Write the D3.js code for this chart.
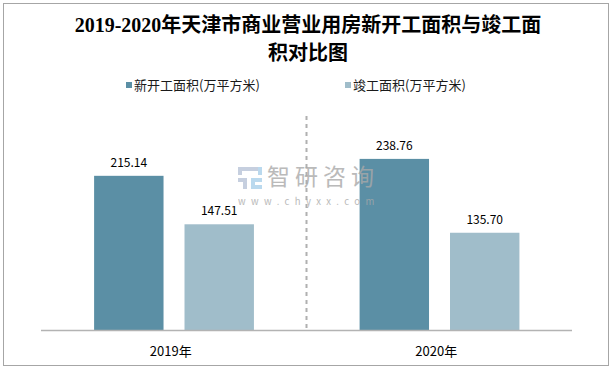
<!DOCTYPE html>
<html>
<head>
<meta charset="utf-8">
<script src="https://cdn.jsdelivr.net/npm/d3@7"></script>
<style>
  body { margin: 0; background: #fff; }
  svg text { font-family: "Microsoft YaHei", "Noto Sans CJK SC", sans-serif; }
</style>
</head>
<body>
<svg id="chart" width="616" height="370"></svg>
<script>
// data
var years = ["2019年", "2020年"];
var seriesNames = ["新开工面积(万平方米)", "竣工面积(万平方米)"];
var newStart = [215.14, 238.76];
var completed = [147.51, 135.70];
var colors = ["#5b8fa5", "#a0bdca"];

var svg = d3.select("#chart");

// frame
svg.append("rect")
    .attr("x", 3.5).attr("y", 3.5)
    .attr("width", 605).attr("height", 362)
    .attr("fill", "none")
    .attr("stroke", "#a6a6a6")
    .attr("stroke-width", 1);

// title
var title = svg.append("text")
    .attr("text-anchor", "middle")
    .style("font-family", "'Liberation Serif', 'Noto Sans CJK SC', serif")
    .style("font-weight", "bold")
    .style("font-size", "20px")
    .attr("fill", "#000");
title.append("tspan").attr("x", 308).attr("y", 32).text("2019-2020年天津市商业营业用房新开工面积与竣工面");
title.append("tspan").attr("x", 308).attr("y", 60).text("积对比图");

// scales
var x0 = d3.scaleBand().domain(years).range([41, 572]);
var x1 = d3.scaleBand().domain([0, 1])
    .range([x0.bandwidth() * 0.2, x0.bandwidth() * 0.802])
    .paddingInner(0.232);
var y = d3.scaleLinear().domain([0, 300]).range([330, 115]);

// legend
var legendX = [126, 345];
var legend = svg.selectAll(".legend")
    .data(seriesNames)
    .join("g")
    .attr("class", "legend")
    .attr("transform", (d, i) => `translate(${legendX[i]},82)`);
legend.append("rect")
    .attr("width", 6).attr("height", 6)
    .attr("fill", (d, i) => colors[i]);
legend.append("text")
    .attr("x", 8).attr("y", 7.5)
    .style("font-size", "13px")
    .attr("fill", "#1a1a1a")
    .text(d => d);

// separator
svg.append("line")
    .attr("x1", x0.range()[0] + x0.bandwidth()).attr("x2", x0.range()[0] + x0.bandwidth())
    .attr("y1", 116).attr("y2", 330)
    .attr("stroke", "#b0b0b0")
    .attr("stroke-width", 2)
    .attr("stroke-dasharray", "4,4");

// bars
var rows = years.map((yr, i) => ({ year: yr, values: [newStart[i], completed[i]] }));
var groups = svg.selectAll(".grp")
    .data(rows)
    .join("g")
    .attr("class", "grp")
    .attr("transform", d => `translate(${x0(d.year)},0)`);

groups.selectAll("rect")
    .data(d => d.values)
    .join("rect")
    .attr("x", (d, i) => x1(i))
    .attr("width", x1.bandwidth())
    .attr("y", d => y(d))
    .attr("height", d => y(0) - y(d))
    .attr("fill", (d, i) => colors[i]);

groups.selectAll(".val")
    .data(d => d.values)
    .join("text")
    .attr("class", "val")
    .attr("x", (d, i) => x1(i) + x1.bandwidth() / 2)
    .attr("y", d => y(d) - 9)
    .attr("text-anchor", "middle")
    .style("font-size", "12px")
    .attr("fill", "#000")
    .text(d => d.toFixed(2));

// watermark (drawn over the bars)
var wm = svg.append("g").attr("opacity", 0.8);
wm.append("path")
    .attr("d", "M238,167h20v4h-16v4h-4z M238,178h9v11h-4v-7h-5z")
    .attr("fill", "#b8c4d8");
wm.append("path")
    .attr("d", "M251,178h11v4h-7v3h7v4h-11z M258,167h4v8h-4z")
    .attr("fill", "#a9d0ea");
wm.append("text")
    .attr("x", 267).attr("y", 185)
    .style("font-size", "23px")
    .style("letter-spacing", "5px")
    .attr("fill", "#a9a9a9")
    .text("智研咨询");
wm.append("text")
    .attr("x", 238).attr("y", 205)
    .style("font-size", "9.5px")
    .style("letter-spacing", "5.4px")
    .attr("fill", "#a9a9a9")
    .text("www.chyxx.com");

// x axis
svg.append("line")
    .attr("x1", 41).attr("x2", 572)
    .attr("y1", 330.5).attr("y2", 330.5)
    .attr("stroke", "#b3b3b3")
    .attr("stroke-width", 1.5);

svg.selectAll(".xlab")
    .data(years)
    .join("text")
    .attr("class", "xlab")
    .attr("x", d => x0(d) + x0.bandwidth() / 2 - 3)
    .attr("y", 356)
    .attr("text-anchor", "middle")
    .style("font-size", "13px")
    .attr("fill", "#000")
    .text(d => d);
</script>
</body>
</html>
